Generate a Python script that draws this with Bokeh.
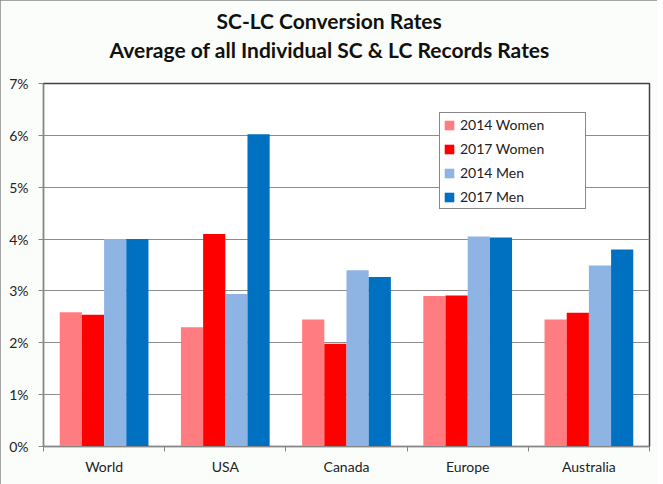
from bokeh.plotting import figure
from bokeh.models import (Range1d, FixedTicker, NumeralTickFormatter, ColumnDataSource,
                          Title, Legend, LegendItem)
from bokeh.transform import dodge
from bokeh.embed import file_html
from bokeh.resources import INLINE

categories = ["World", "USA", "Canada", "Europe", "Australia"]
women_2014 = [0.0259, 0.0230, 0.0245, 0.0290, 0.0245]
women_2017 = [0.0254, 0.0410, 0.0198, 0.0291, 0.0258]
men_2014 = [0.0400, 0.0294, 0.0340, 0.0405, 0.0349]
men_2017 = [0.0400, 0.0602, 0.0327, 0.0403, 0.0380]
series_names = ["2014 Women", "2017 Women", "2014 Men", "2017 Men"]
series_colors = ["#FF7C80", "#FF0000", "#8DB4E2", "#0070C0"]
y_ticks = [0.0, 0.01, 0.02, 0.03, 0.04, 0.05, 0.06, 0.07]
title_lines = ["SC-LC Conversion Rates", "Average of all Individual SC & LC Records Rates"]

FONT = "Lato"
W, H = 657, 484
n = len(categories)
centers = [i + 0.5 for i in range(n)]
boundaries = list(range(n + 1))

source = ColumnDataSource(dict(x=centers, w14=women_2014, w17=women_2017,
                               m14=men_2014, m17=men_2017))

p = figure(width=W, height=H, output_backend="svg", toolbar_location=None,
           x_range=Range1d(0, n), y_range=Range1d(0, 0.07),
           min_border_left=43, min_border_right=8, min_border_top=83, min_border_bottom=38)
p.styles = {"outline": "2px solid #878787", "outline-offset": "-2px"}

p.background_fill_color = "white"
p.border_fill_color = "#fbfdfb"
p.outline_line_color = "#404040"
p.outline_line_width = 1.5

bw = 0.183
offsets = [-1.5 * bw, -0.5 * bw, 0.5 * bw, 1.5 * bw]
cols = ["w14", "w17", "m14", "m17"]
renderers = []
for col, off, color in zip(cols, offsets, series_colors):
    r = p.vbar(x=dodge("x", off), top=col, width=bw, source=source,
               fill_color=color, line_color=None)
    renderers.append(r)

# axes
p.xaxis.ticker = FixedTicker(ticks=centers, minor_ticks=boundaries)
p.xaxis.major_label_overrides = {c: lab for c, lab in zip(centers, categories)}
p.xaxis.major_tick_line_color = None
p.xaxis.major_tick_out = 0
p.xaxis.major_tick_in = 0
p.xaxis.minor_tick_out = 5
p.xaxis.minor_tick_in = 0
p.xaxis.minor_tick_line_color = "#868686"
p.xaxis.axis_line_color = "#868686"
p.xaxis.major_label_standoff = 6

p.yaxis.ticker = FixedTicker(ticks=y_ticks)
p.yaxis.formatter = NumeralTickFormatter(format="0%")
p.yaxis.minor_tick_line_color = None
p.yaxis.major_tick_out = 5
p.yaxis.major_tick_in = 0
p.yaxis.major_tick_line_color = "#868686"
p.yaxis.axis_line_color = "#868686"
p.yaxis.major_label_standoff = 10

for ax in (p.xaxis, p.yaxis):
    ax.major_label_text_font = FONT
    ax.major_label_text_font_size = "14px"
    ax.major_label_text_color = "#222222"

p.xgrid.grid_line_color = None
p.ygrid.grid_line_color = "#8c8c8c"
p.ygrid.grid_line_width = 1

# spacer between the plot frame and the title block
p.add_layout(Title(text=" ", text_font_size="1px", standoff=19, text_color="#fbfdfb"), "above")

# title lines, left-aligned with an offset so that each is centred over the whole chart
title_offsets = [173, 66]
title_standoffs = [4, 0]
for line, off, so in reversed(list(zip(title_lines, title_offsets, title_standoffs))):
    p.add_layout(Title(text=line, align="left", offset=off, standoff=so, text_font=FONT,
                       text_font_size="21px", text_font_style="bold", text_color="#111111"),
                 "above")

legend = Legend(items=[LegendItem(label=nm, renderers=[r]) for nm, r in zip(series_names, renderers)],
                location=(396, 237), padding=3, spacing=7, label_height=16,
                glyph_width=12, glyph_height=12, label_width=122, label_standoff=5,
                border_line_color="#111111", border_line_width=1.5,
                background_fill_color="white", background_fill_alpha=1,
                label_text_font=FONT, label_text_font_size="14px", label_text_color="#222222")
p.add_layout(legend, "center")

open("out.html", "w").write(file_html(p, INLINE))
